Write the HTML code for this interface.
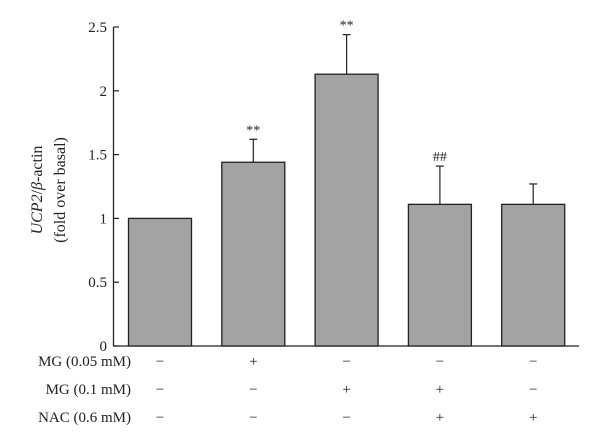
<!DOCTYPE html>
<html><head><meta charset="utf-8"><style>
html,body{margin:0;padding:0;background:#fff;}
svg{display:block;font-family:"Liberation Serif",serif;}
</style></head><body>
<svg id="chart" width="600" height="447" viewBox="0 0 600 447">
<g id="g"></g>
</svg>
<script>
const categories = ["basal","MG 0.05","MG 0.1","MG 0.1 + NAC","NAC"];
const values = [1.0, 1.44, 2.13, 1.11, 1.11];
const errors = [0, 0.18, 0.31, 0.30, 0.16];
const annotations = ["", "**", "**", "##", ""];
const yTicks = [0, 0.5, 1, 1.5, 2, 2.5];
const yTickLabels = ["0","0.5","1","1.5","2","2.5"];
const rowLabels = ["MG (0.05 mM)","MG (0.1 mM)","NAC (0.6 mM)"];
const rowSigns = [["−","+","−","−","−"],["−","−","+","+","−"],["−","−","−","+","+"]];

const NS="http://www.w3.org/2000/svg";
const g=document.getElementById('g');
const y0=346, pxPerUnit=127.6;
function yScale(v){return y0-v*pxPerUnit;}
function xCenter(i){return 160+i*93.3;}
const barW=63;
function mk(tag,attrs,text){const e=document.createElementNS(NS,tag);for(const k in attrs)e.setAttribute(k,attrs[k]);if(text!==undefined)e.textContent=text;g.appendChild(e);return e;}

// axes
let e=mk('line',{x1:113.5,y1:yScale(2.5),x2:113.5,y2:y0,stroke:'#222','stroke-width':1.3});


e=mk('line',{x1:113,y1:y0,x2:579,y2:y0,stroke:'#222','stroke-width':1.3});



yTicks.forEach((t,i)=>{
  const y=yScale(t);
  let tk=mk('line',{x1:113.5,y1:y,x2:119,y2:y,stroke:'#222','stroke-width':1.2});
  
  
  let lb=mk('text',{x:107,y:y+5,'text-anchor':'end','font-size':15,fill:'#222'},yTickLabels[i]);
  
  
});

// y title
const tt=mk('text',{transform:'translate(42,190) rotate(-90)','text-anchor':'middle','font-size':16,fill:'#222'});


tt.innerHTML='<tspan font-style="italic">UCP2</tspan>/<tspan font-style="italic">β</tspan>-actin';
const tt2=mk('text',{transform:'translate(65,190) rotate(-90)','text-anchor':'middle','font-size':16,fill:'#222'},'(fold over basal)');



categories.forEach((c,i)=>{
  const cx=xCenter(i), top=yScale(values[i]);
  if(errors[i]>0){
    const et=yScale(values[i]+errors[i]);
    let l=mk('line',{x1:cx,y1:top,x2:cx,y2:et,stroke:'#222','stroke-width':1.2});
    
    
    let cap=mk('line',{x1:cx-4,y1:et,x2:cx+4,y2:et,stroke:'#222','stroke-width':1.2});
    
    
  }
  let r=mk('rect',{x:cx-barW/2,y:top,width:barW,height:y0-top,fill:'#a3a3a3',stroke:'#222','stroke-width':1.3});
  
  
  if(annotations[i]){
    const ay=yScale(values[i]+errors[i])-5;
    let a=mk('text',{x:cx,y:ay,'text-anchor':'middle','font-size':14,fill:'#222'},annotations[i]);
    
    
  }
});

rowLabels.forEach((lab,r)=>{
  const y=366+r*28;
  let t=mk('text',{x:131,y:y,'text-anchor':'end','font-size':15,fill:'#222'},lab);
  
  
  rowSigns[r].forEach((s,i)=>{
    let st=mk('text',{x:xCenter(i),y:y,'text-anchor':'middle','font-size':15,fill:'#222'},s);
    
    
  });
});
</script>
</body></html>
